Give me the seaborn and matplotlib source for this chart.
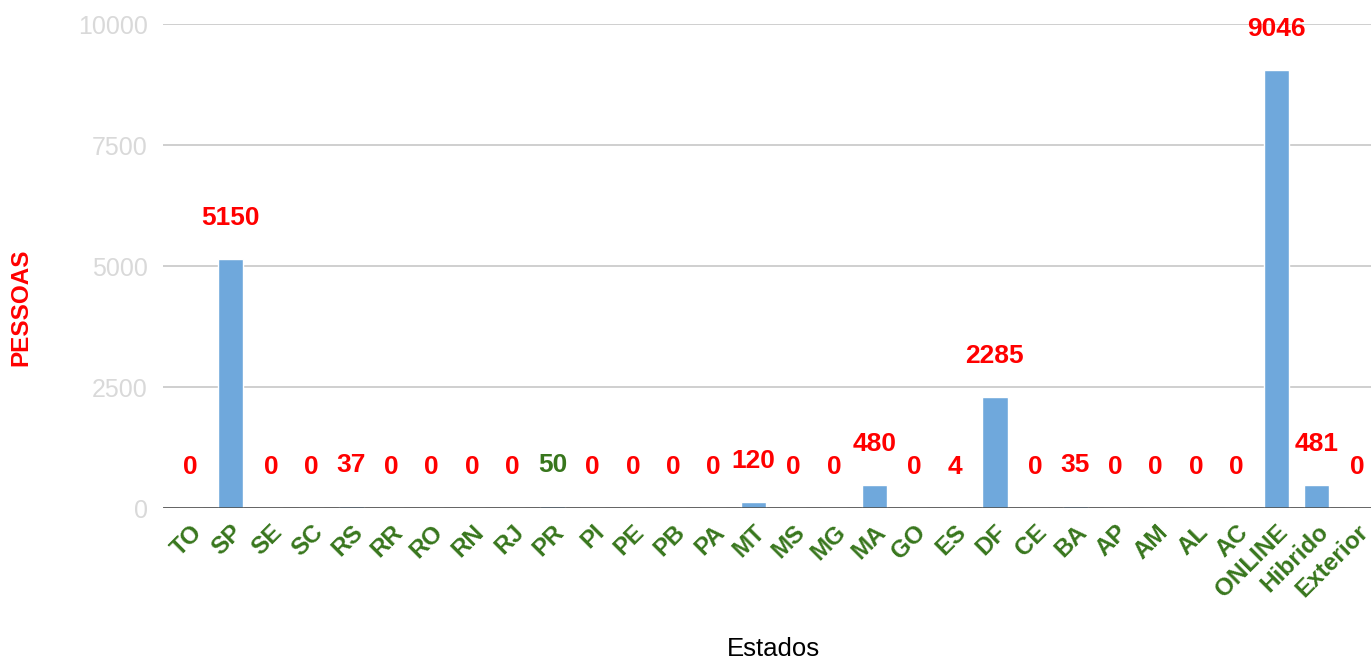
import pandas as pd
import matplotlib
matplotlib.use("Agg")
import matplotlib.pyplot as plt
import seaborn as sns

# dados do gráfico
estados = ['TO', 'SP', 'SE', 'SC', 'RS', 'RR', 'RO', 'RN', 'RJ', 'PR',
           'PI', 'PE', 'PB', 'PA', 'MT', 'MS', 'MG', 'MA', 'GO', 'ES',
           'DF', 'CE', 'BA', 'AP', 'AM', 'AL', 'AC', 'ONLINE', 'Hibrido', 'Exterior']
pessoas = [0, 5150, 0, 0, 37, 0, 0, 0, 0, 50,
           0, 0, 0, 0, 120, 0, 0, 480, 0, 4,
           2285, 0, 35, 0, 0, 0, 0, 9046, 481, 0]
cores_rotulo = ['red'] * len(estados)
cores_rotulo[estados.index('PR')] = '#38761d'
yticks = [0, 2500, 5000, 7500, 10000]

df = pd.DataFrame({'Estados': estados, 'Pessoas': pessoas})

sns.set_style('white')
plt.rcParams['font.family'] = ['Liberation Sans', 'DejaVu Sans']

fig = plt.figure(figsize=(13.71, 6.62), dpi=100)
ax = fig.add_axes([0.1189, 0.2326, 0.8811, 0.7311])

sns.barplot(data=df, x='Estados', y='Pessoas', color='#6fa8dc',
            width=0.63, saturation=1, ax=ax, zorder=3)

ax.set_ylim(0, 10000)
ax.set_xlim(-0.68, 29.35)
ax.set_yticks(yticks)
ax.set_yticklabels([str(t) for t in yticks], color='#d9d9d9', fontsize=18)
ax.yaxis.grid(True, color='#cccccc', linewidth=1.3, zorder=0)
ax.axhline(0, color='#444444', linewidth=1.8, zorder=4)
for s in ax.spines.values():
    s.set_visible(False)
ax.tick_params(axis='both', length=0)
ax.tick_params(axis='y', pad=11)
ax.tick_params(axis='x', pad=9)

ax.set_xticks(range(len(estados)))
ax.set_xticklabels(estados, rotation=45, ha='right', rotation_mode='anchor',
                   color='#38761d', fontsize=17.5, fontweight='bold')

# rótulos de dados
for i, (v, c) in enumerate(zip(pessoas, cores_rotulo)):
    ax.annotate(str(v), xy=(i, v), xytext=(0, 29.5), textcoords='offset points',
                ha='center', va='center', color=c, fontsize=19,
                fontweight='bold', annotation_clip=False)

ax.set_ylabel('PESSOAS', color='red', fontsize=17.5, fontweight='bold')
ax.set_xlabel('Estados', color='black', fontsize=18.5)
ax.yaxis.set_label_coords(-0.108, 0.415)
ax.xaxis.set_label_coords(0.505, -0.267)

fig.savefig('out.png', dpi=100)
